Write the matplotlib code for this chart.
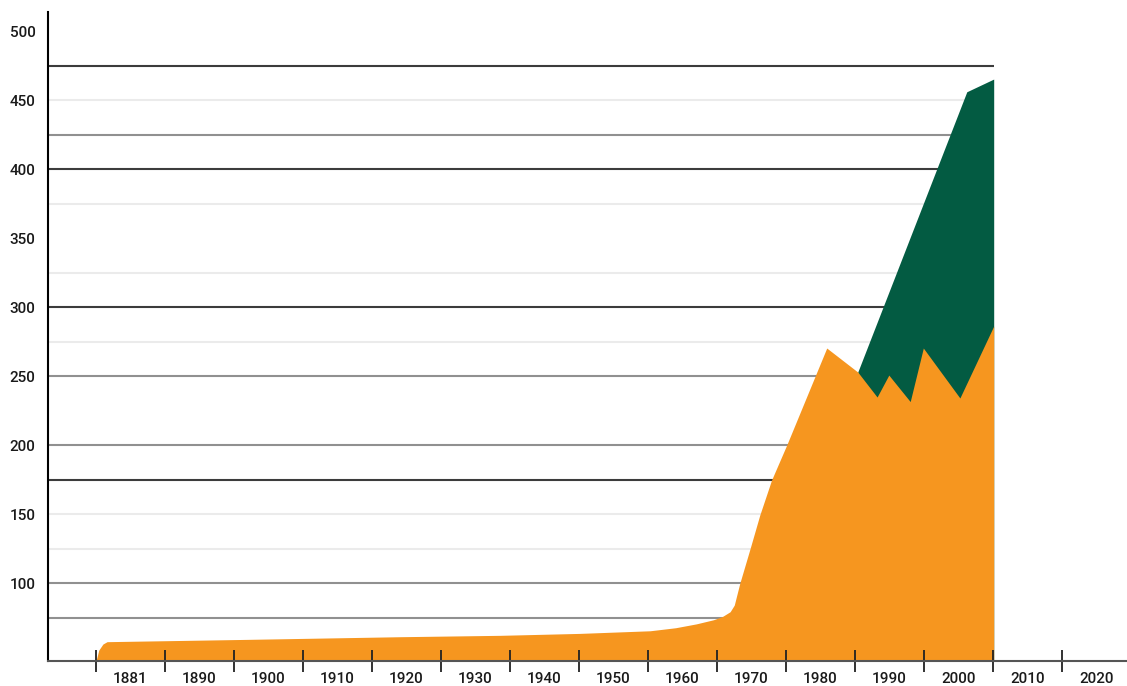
import matplotlib
matplotlib.use("Agg")
import matplotlib.pyplot as plt

# orange series
orange_years = [1875.0, 1875.4, 1876.0, 1876.6, 1897.3, 1919.1, 1933.6, 1945.1, 1955.3,
                1959.0, 1962.0, 1964.5, 1965.8, 1966.9, 1967.5, 1968.3, 1969.8, 1971.2,
                1972.9, 1975.1, 1980.9, 1985.4, 1988.2, 1989.9, 1993.0, 1994.9, 2000.2, 2005.1]
orange_vals = [43.5, 51.4, 55.8, 57.5, 59.2, 61.1, 62.1, 63.5, 65.4,
               67.6, 70.4, 73.4, 75.8, 79.2, 84.0, 99.8, 125.1, 149.3,
               174.6, 200.0, 270.3, 252.9, 234.8, 250.7, 231.5, 270.3, 234.1, 286.2]

# green total on top
green_years = [1985.4, 2001.2, 2005.1]
green_vals = [252.9, 456.0, 465.2]

# axis ticks / labels
tick_bounds = [1875, 1885, 1895, 1905, 1915, 1925, 1935, 1945, 1955, 1965, 1975, 1985, 1995, 2005, 2015]
label_pos = [1880, 1890, 1900, 1910, 1920, 1930, 1940, 1950, 1960, 1970, 1980, 1990, 2000, 2010, 2020]
label_txt = ["1881", "1890", "1900", "1910", "1920", "1930", "1940", "1950", "1960",
             "1970", "1980", "1990", "2000", "2010", "2020"]
y_labels = [100, 150, 200, 250, 300, 350, 400, 450, 500]

# gridlines in three shades
grid_dark = [475, 400, 300, 175]
grid_mid = [425, 250, 200, 100, 75]
grid_light = [450, 375, 325, 275, 150, 125]

plt.rcParams['font.family'] = ['Roboto', 'DejaVu Sans']

fig = plt.figure(figsize=(11.27, 6.86), dpi=100)
ax = fig.add_axes([48/1127, 25/686, 1 - 48/1127, (661-12)/686])

x_min, x_max = 1868.04, 2024.42
y_min, y_max = 43.5, 513.8
ax.set_xlim(x_min, x_max)
ax.set_ylim(y_min, y_max)

grid_end = orange_years[-1]
ax.hlines(grid_light, x_min, grid_end, colors="#ebebeb", linewidth=1.5, zorder=0.5)
ax.hlines(grid_mid, x_min, grid_end, colors="#909090", linewidth=1.5, zorder=0.6)
ax.hlines(grid_dark, x_min, grid_end, colors="#3c3c3c", linewidth=1.5, zorder=0.7)

ax.fill_between(green_years, y_min, green_vals, color="#035B42", linewidth=0, zorder=1)
ax.fill_between(orange_years, y_min, orange_vals, color="#F6961F", linewidth=0, zorder=1.1)

for s in ["top", "right"]:
    ax.spines[s].set_visible(False)
ax.spines["left"].set_linewidth(1.5)
ax.spines["bottom"].set_linewidth(1.5)
ax.spines["bottom"].set_color("#555555")

ax.set_xticks(tick_bounds)
ax.set_xticklabels([])
ax.tick_params(axis="x", which="major", direction="inout", length=16, width=1.3, color="#222222")
ax.set_xticks(label_pos, minor=True)
ax.set_xticklabels(label_txt, minor=True, fontweight="medium")
ax.tick_params(axis="x", which="minor", length=0, pad=8, labelsize=11, labelcolor="#1a1a1a")

ax.set_yticks(y_labels)
ax.set_yticklabels([str(v) for v in y_labels], fontweight="medium")
ax.tick_params(axis="y", length=0, pad=9, labelsize=11, labelcolor="#1a1a1a")

fig.savefig("out.png", dpi=100)
